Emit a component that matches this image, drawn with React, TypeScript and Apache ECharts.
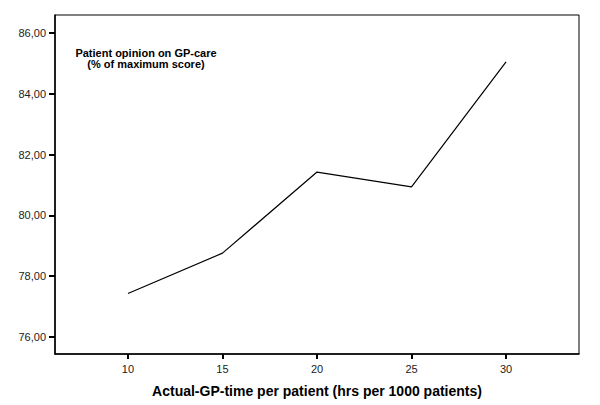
import React, { useEffect, useRef } from "react";
import * as echarts from "echarts";

const xValues = [10, 15, 20, 25, 30];
const yValues = [77.43, 78.76, 81.43, 80.94, 85.06];
const xTicks = [10, 15, 20, 25, 30];
const yTicks = [76, 78, 80, 82, 84, 86];
const xTitle = "Actual-GP-time per patient (hrs per 1000 patients)";
const legendLines = ["Patient opinion on GP-care", "(% of maximum score)"];

export default function App() {
  const ref = useRef<HTMLDivElement>(null);
  useEffect(() => {
    if (!ref.current) return;
    const chart = echarts.init(ref.current, null, { renderer: "svg" });
    const font = "'Liberation Sans', Arial, sans-serif";
    chart.setOption({
      animation: false,
      backgroundColor: "#ffffff",
      grid: { left: 55, top: 15, right: 21, bottom: 51, show: true, borderColor: "#000", borderWidth: 1, backgroundColor: "transparent" },
      xAxis: {
        type: "value",
        min: 6.14,
        max: 33.86,
        name: xTitle,
        nameLocation: "middle",
        nameGap: 30,
        nameTextStyle: { fontFamily: font, fontWeight: "bold", fontSize: 14, color: "#000" },
        axisLine: { lineStyle: { color: "#000", width: 1.5 } },
        axisTick: { show: true, inside: false, customValues: xTicks, length: 5, lineStyle: { color: "#000", width: 2 } },
        axisLabel: { customValues: xTicks, fontFamily: font, fontSize: 11, color: "#222", margin: 9 },
        splitLine: { show: false },
      },
      yAxis: {
        type: "value",
        min: 75.44,
        max: 86.6,
        axisLine: { show: true, lineStyle: { color: "#000", width: 1.5 } },
        axisTick: { show: true, inside: false, customValues: yTicks, length: 6, lineStyle: { color: "#000", width: 2 } },
        axisLabel: {
          customValues: yTicks,
          fontFamily: font,
          fontSize: 11,
          color: "#222",
          margin: 9,
          formatter: (v: number) => v.toFixed(2).replace(".", ","),
        },
        splitLine: { show: false },
      },
      graphic: [
        {
          type: "text",
          x: 146,
          y: 47,
          style: {
            text: legendLines.join("\n"),
            align: "center",
            verticalAlign: "top",
            fontFamily: font,
            fontWeight: "bold",
            fontSize: 11,
            lineHeight: 11,
            fill: "#000",
          },
        },
      ],
      series: [
        {
          type: "line",
          data: xValues.map((x, i) => [x, yValues[i]]),
          symbol: "none",
          lineStyle: { color: "#000", width: 1.2 },
        },
      ],
    });
    return () => chart.dispose();
  }, []);
  return <div ref={ref} style={{ position: "fixed", left: 0, top: 0, width: 600, height: 405 }} />;
}
